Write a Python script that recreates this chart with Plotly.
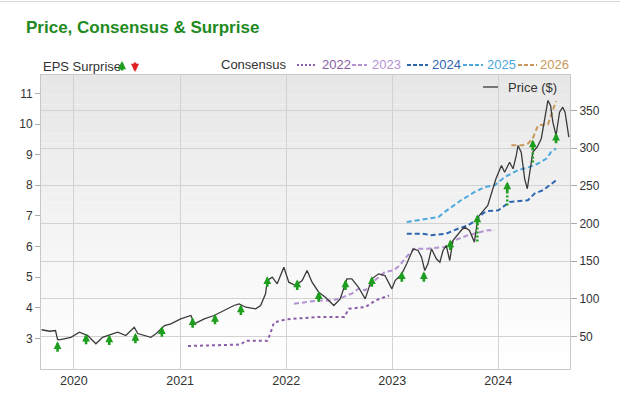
import plotly.graph_objects as go

# ---------------- data ----------------
price_dates = [
    "2019-09-12", "2019-10-10", "2019-10-30", "2019-11-06", "2019-11-16", "2019-12-22",
    "2020-01-20", "2020-02-18", "2020-03-17", "2020-04-09", "2020-04-26", "2020-05-31",
    "2020-06-28", "2020-07-27", "2020-08-08", "2020-08-31", "2020-09-22", "2020-10-10",
    "2020-11-08", "2020-11-30", "2021-01-03", "2021-02-07", "2021-02-19", "2021-03-25",
    "2021-04-28", "2021-06-01", "2021-07-05", "2021-07-23", "2021-08-15", "2021-09-18",
    "2021-10-05", "2021-10-22", "2021-10-28", "2021-11-14", "2021-12-01", "2021-12-24",
    "2022-01-10", "2022-02-02", "2022-02-25", "2022-03-14", "2022-03-31", "2022-04-23",
    "2022-05-16", "2022-06-14", "2022-07-06", "2022-07-29", "2022-08-15", "2022-09-07",
    "2022-09-30", "2022-10-23", "2022-11-15", "2022-12-07", "2022-12-31", "2023-01-11",
    "2023-02-03", "2023-02-20", "2023-03-14", "2023-03-31", "2023-04-12", "2023-04-23",
    "2023-05-04", "2023-05-16", "2023-06-02", "2023-06-14", "2023-06-25", "2023-07-06",
    "2023-07-18", "2023-07-29", "2023-08-15", "2023-08-26", "2023-09-07", "2023-09-24",
    "2023-10-11", "2023-10-23", "2023-11-26", "2023-12-07", "2023-12-24", "2024-01-12",
    "2024-01-23", "2024-02-09", "2024-02-21", "2024-03-03", "2024-03-09", "2024-03-20",
    "2024-04-01", "2024-04-10", "2024-04-21", "2024-04-29", "2024-05-14", "2024-05-28",
    "2024-06-09", "2024-06-20", "2024-06-29", "2024-07-07", "2024-07-18", "2024-07-30",
    "2024-08-10", "2024-08-18", "2024-08-31",
]
price_values = [
    59, 57, 58, 46, 46, 49,
    55.7, 51.3, 40.3, 49, 51.3, 55.7,
    51.3, 62.3, 54, 51.3, 49, 53.6,
    64.6, 66.9, 73.5, 77.9, 66.9, 73.5,
    77.9, 84.5, 91.2, 93.4, 88.9, 86.8,
    91.2, 106.7, 124.3, 128.7, 120, 142,
    122.1, 117.7, 124.3, 137.6, 122.1, 108.8,
    102.2, 91.2, 100, 126.6, 126.6, 115.4,
    100, 126.6, 133.2, 131, 113.3, 124.3,
    133.2, 146.5, 166.4, 164.2, 155.3, 137.6,
    146.5, 166.4, 153.1, 148.6, 164.2, 170.8,
    150.9, 177.4, 186.3, 190.7, 195.1, 190.7,
    175.2, 208.4, 223.9, 237.2, 259.3, 277,
    268.1, 281.4, 272.6, 290.3, 303.5, 294.7,
    259.3, 246.1, 277, 294.7, 301.3, 312.4,
    339, 363.3, 356.6, 334.5, 316.8, 347.8,
    354.4, 347.8, 314.6,
]

cons_2022_dates = ["2021-01-28", "2021-03-15", "2021-05-01", "2021-06-15", "2021-07-28",
                   "2021-08-15", "2021-10-28", "2021-11-09", "2021-11-20", "2022-01-01",
                   "2022-04-20", "2022-07-20", "2022-08-05", "2022-09-30", "2022-11-05",
                   "2022-12-21"]
cons_2022_eps = [2.75, 2.76, 2.78, 2.80, 2.80, 2.92, 2.92, 3.2, 3.52, 3.62,
                 3.70, 3.70, 3.97, 4.02, 4.24, 4.40]

cons_2023_dates = ["2022-01-28", "2022-04-23", "2022-06-08", "2022-07-01", "2022-08-15",
                   "2022-09-07", "2022-09-30", "2022-11-03", "2022-12-07", "2023-01-05",
                   "2023-01-28", "2023-02-14", "2023-03-20", "2023-05-04", "2023-07-01",
                   "2023-08-04", "2023-09-19", "2023-10-29", "2023-11-26", "2023-12-20"]
cons_2023_eps = [4.13, 4.24, 4.24, 4.30, 4.46, 4.62, 4.57, 4.90, 5.17, 5.22,
                 5.39, 5.62, 5.93, 5.93, 5.98, 6.20, 6.37, 6.47, 6.53, 6.53]

cons_2024_dates = ["2023-02-20", "2023-04-12", "2023-05-16", "2023-07-06", "2023-08-15",
                   "2023-09-19", "2023-10-17", "2023-11-09", "2023-11-26", "2024-01-01",
                   "2024-02-09", "2024-04-12", "2024-05-05", "2024-06-03", "2024-06-26",
                   "2024-07-18"]
cons_2024_eps = [6.42, 6.42, 6.37, 6.42, 6.58, 6.69, 6.86, 7.08, 7.16, 7.18,
                 7.45, 7.51, 7.73, 7.84, 8.00, 8.16]

cons_2025_dates = ["2023-02-20", "2023-06-09", "2023-07-01", "2023-08-26", "2023-10-12",
                   "2023-11-15", "2023-12-20", "2024-01-23", "2024-03-09", "2024-04-12",
                   "2024-05-17", "2024-06-15", "2024-07-01", "2024-07-18"]
cons_2025_eps = [6.80, 6.96, 7.13, 7.51, 7.78, 7.94, 8.00, 8.27, 8.49, 8.58,
                 8.71, 8.87, 9.09, 9.20]

cons_2026_dates = ["2024-02-15", "2024-03-26", "2024-04-12", "2024-04-29", "2024-05-17",
                   "2024-06-20", "2024-07-01", "2024-07-18"]
cons_2026_eps = [9.31, 9.31, 9.36, 9.53, 9.96, 9.98, 10.29, 10.75]

consensus_years = ["2022", "2023", "2024", "2025", "2026"]
consensus_dates = [cons_2022_dates, cons_2023_dates, cons_2024_dates, cons_2025_dates, cons_2026_dates]
consensus_eps = [cons_2022_eps, cons_2023_eps, cons_2024_eps, cons_2025_eps, cons_2026_eps]

# EPS surprise arrows (positioned on the price scale): tip, and base of long stem (None = short arrow)
surprise_dates = ["2019-11-06", "2020-02-12", "2020-05-02", "2020-07-31", "2020-10-30",
                  "2021-02-13", "2021-05-01", "2021-07-29", "2021-10-28", "2022-02-08",
                  "2022-04-23", "2022-07-24", "2022-10-23", "2023-02-03", "2023-04-20",
                  "2023-07-20", "2023-10-21", "2024-02-01", "2024-04-29", "2024-07-18"]
surprise_tip = [43.8, 53.6, 52.7, 54.9, 63.7, 75.6, 80.1, 92.5, 130, 125.7,
                110.1, 125.7, 130, 136.7, 136.7, 178.8, 212, 255.8, 311.5, 320.4]
surprise_base = [None, None, None, None, None, None, None, None, None, None,
                 None, None, None, None, None, None, 176, 224, 281, None]

# ---------------- styles ----------------
FONT = "Liberation Sans, Arial, Helvetica, sans-serif"
GREEN = "#1e9e1e"
cons_colors = ["#8b5ca8", "#b592d2", "#2f66b0", "#4da8dc", "#c9995b"]
cons_dash = ["dot", "5px,3px", "5px,3px", "5px,3px", "5px,3px"]
legend_dash = ["2px,2px", "4px,2px", "4px,2px", "4px,2px", "4px,2px"]

L, R, T, B = 41, 570, 75, 369
W, H = 620, 415

def px(xp):
    return (xp - L) / (R - L)

def py(yp):
    return (B - yp) / (B - T)

fig = go.Figure()

for yr, d, v, c, ds in zip(consensus_years, consensus_dates, consensus_eps, cons_colors, cons_dash):
    fig.add_trace(go.Scatter(x=d, y=v, mode="lines", name=yr, yaxis="y",
                             line=dict(color=c, width=2, dash=ds), showlegend=False,
                             hoverinfo="skip"))

fig.add_trace(go.Scatter(x=price_dates, y=price_values, mode="lines", name="Price ($)",
                         yaxis="y2", line=dict(color="#3a3a3a", width=1.3),
                         showlegend=False))

# long dotted stems
stem_x, stem_y = [], []
for d, tip, base in zip(surprise_dates, surprise_tip, surprise_base):
    if base is not None:
        stem_x += [d, d, None]
        stem_y += [base, tip - 10, None]
fig.add_trace(go.Scatter(x=stem_x, y=stem_y, mode="lines", yaxis="y2",
                         line=dict(color=GREEN, width=2.5, dash="2px,2px"),
                         showlegend=False, hoverinfo="skip"))

annotations = []
for d, tip in zip(surprise_dates, surprise_tip):
    annotations.append(dict(x=d, y=tip, xref="x", yref="y2", text="", showarrow=True,
                            ax=0, ay=12, arrowhead=2, arrowsize=0.6, arrowwidth=2.6,
                            arrowcolor=GREEN, standoff=0))

# header legend row
annotations.append(dict(x=px(41), y=py(67), xref="paper", yref="paper", text="EPS Surprise",
                        showarrow=False, xanchor="left", yanchor="middle",
                        font=dict(family=FONT, size=13, color="#333333")))
annotations.append(dict(x=px(122), y=py(61), xref="paper", yref="paper", text="",
                        showarrow=True, ax=0, ay=11, arrowhead=2, arrowsize=0.65,
                        arrowwidth=2.5, arrowcolor=GREEN, standoff=0))
annotations.append(dict(x=px(135), y=py(72), xref="paper", yref="paper", text="",
                        showarrow=True, ax=0, ay=-11, arrowhead=2, arrowsize=0.65,
                        arrowwidth=2.5, arrowcolor="#e02020", standoff=0))
annotations.append(dict(x=px(219), y=py(65), xref="paper", yref="paper", text="Consensus",
                        showarrow=False, xanchor="left", yanchor="middle",
                        font=dict(family=FONT, size=13, color="#333333")))

shapes = []
sample_x = [(297, 317, 320), (352, 367, 370), (407, 428, 430), (463, 483, 485), (518, 537, 538)]
for yr, c, ds, (x0, x1, xt) in zip(consensus_years, cons_colors, legend_dash, sample_x):
    shapes.append(dict(type="line", xref="paper", yref="paper", x0=px(x0), x1=px(x1),
                       y0=py(65), y1=py(65), line=dict(color=c, width=2, dash=ds)))
    annotations.append(dict(x=px(xt), y=py(65), xref="paper", yref="paper", text=yr,
                            showarrow=False, xanchor="left", yanchor="middle",
                            font=dict(family=FONT, size=13, color=c)))

# price legend inside plot
shapes.append(dict(type="line", xref="paper", yref="paper", x0=px(483), x1=px(498),
                   y0=py(87), y1=py(87), line=dict(color="#3a3a3a", width=1.3)))
annotations.append(dict(x=px(506), y=py(87), xref="paper", yref="paper", text="Price ($)",
                        showarrow=False, xanchor="left", yanchor="middle",
                        font=dict(family=FONT, size=13, color="#333333")))

# background gradient of the plot area
nb = 30
for i in range(nb):
    t = i / (nb - 1)
    g = int(round(0xe7 + (0xff - 0xe7) * t))
    shapes.append(dict(type="rect", xref="x domain", yref="y domain", x0=0, x1=1,
                       y0=1 - (i + 1) / nb, y1=1 - i / nb, layer="below",
                       line=dict(width=0), fillcolor=f"rgb({g},{g},{g})"))

# container top border
shapes.append(dict(type="line", xref="paper", yref="paper", x0=px(0), x1=px(W),
                   y0=py(1.5), y1=py(1.5), line=dict(color="#d8d8d8", width=1)))

fig.update_layout(
    width=W, height=H,
    margin=dict(l=L, r=W - R, t=T, b=H - B),
    paper_bgcolor="white", plot_bgcolor="rgba(0,0,0,0)",
    font=dict(family=FONT, size=12, color="#333333"),
    title=dict(text="<b>Price, Consensus & Surprise</b>", xref="container", yref="container",
               x=26 / W, xanchor="left", y=1 - 27 / H, yanchor="middle",
               font=dict(family=FONT, size=17, color="#1f8a1f")),
    showlegend=False,
    hovermode=False,
    xaxis=dict(type="date", range=["2019-09-10", "2024-09-04"],
               tick0="2020-01-01", dtick="M12", tickformat="%Y",
               showgrid=True, gridcolor="#d2d2d2", gridwidth=1,
               showline=True, linecolor="#c8c8c8", mirror=True,
               ticks="", tickfont=dict(size=12.5, color="#333333")),
    yaxis=dict(range=[2.0, 11.6], tickmode="array", tickvals=list(range(3, 12)),
               showgrid=False, zeroline=False, showline=True, linecolor="#c8c8c8",
               ticks="outside", ticklen=5, tickcolor="#aaaaaa",
               tickfont=dict(size=12, color="#333333")),
    yaxis2=dict(range=[6.9, 397.1], overlaying="y", side="right",
                tickvals=[50, 100, 150, 200, 250, 300, 350],
                showgrid=True, gridcolor="#d2d2d2", gridwidth=1, zeroline=False,
                showline=True, linecolor="#c8c8c8",
                ticks="outside", ticklen=6, tickcolor="#aaaaaa",
                tickfont=dict(size=12, color="#333333")),
    shapes=shapes,
    annotations=annotations,
)

fig.write_html("out.html", config={"displayModeBar": False},
               post_script="document.body.style.margin='0px';")
